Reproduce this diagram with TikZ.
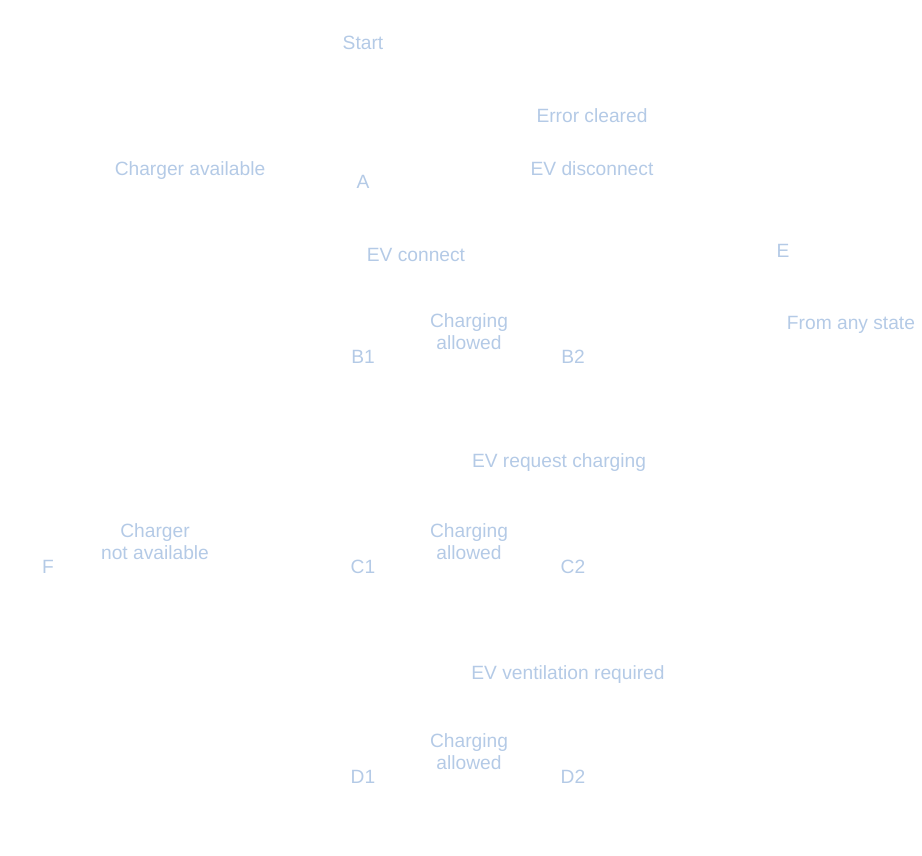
\documentclass[tikz,border=0pt]{standalone}
\usepackage{fontspec}
\setmainfont{Liberation Sans}
\definecolor{txt}{RGB}{180,202,230}
\begin{document}
\begin{tikzpicture}[x=1pt,y=-1pt,
  lbl/.style={font=\fontsize{19.2}{22}\selectfont, text=txt, inner sep=0pt, align=center}]
\useasboundingbox (0,0) rectangle (922,855);
\node[lbl] (start) at (363,43) {Start};
\node[lbl] (errc) at (592,116) {Error cleared};
\node[lbl] (chav) at (190,171) {Charger available};
\node[lbl] (evdis) at (592,169) {EV disconnect};
\node[lbl] (A) at (363,182) {A};
\node[lbl] (evcon) at (416,255) {EV connect};
\node[lbl] (E) at (783,251) {E};
\node[lbl] (allowB) at (469,332) {Charging\\allowed};
\node[lbl] (fromany) at (851,325) {From any state};
\node[lbl] (B1) at (363,357) {B1};
\node[lbl] (B2) at (573,357) {B2};
\node[lbl] (evreq) at (559,463) {EV request charging};
\node[lbl] (chna) at (155,542) {Charger\\not available};
\node[lbl] (allowC) at (469,542) {Charging\\allowed};
\node[lbl] (F) at (48,567) {F};
\node[lbl] (C1) at (363,567) {C1};
\node[lbl] (C2) at (573,567) {C2};
\node[lbl] (evvent) at (568,675) {EV ventilation required};
\node[lbl] (allowD) at (469,752) {Charging\\allowed};
\node[lbl] (D1) at (363,777) {D1};
\node[lbl] (D2) at (573,777) {D2};
\end{tikzpicture}
\end{document}
